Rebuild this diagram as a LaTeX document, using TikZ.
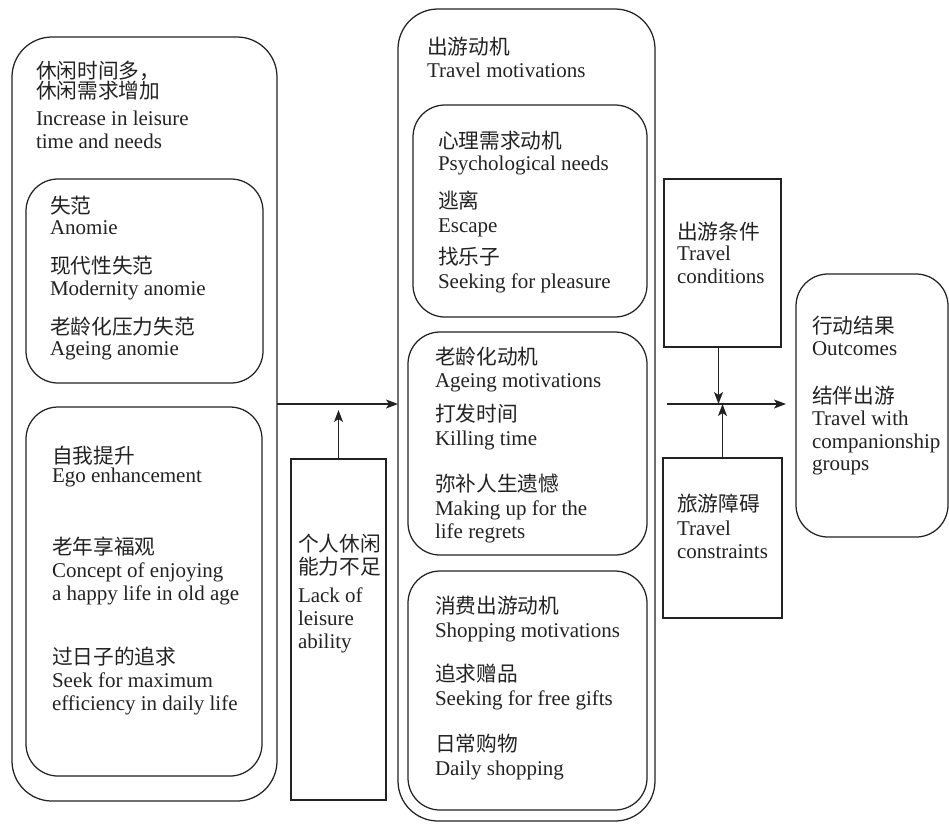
\documentclass[tikz,border=0pt]{standalone}
\usepackage{fontspec}
\setmainfont{Liberation Serif}
\newfontfamily\cjk{Noto Sans CJK SC}
\usetikzlibrary{arrows.meta}
\definecolor{ink}{HTML}{222222}
\newcommand\entext[4]{\node[txt] (#1) at (#2,#3) {#4};}
\newcommand\cntext[4]{\node[cn] (#1) at (#2,#3) {#4};}
\newcommand\bx[6]{\node[#6, minimum width=#4-#2, minimum height=#5-#3, anchor=north west] (#1) at (#2,#3) {};}
\begin{document}
\begin{tikzpicture}[x=1pt,y=-1pt,
  box/.style={draw=ink, line width=1.25pt, inner sep=0pt, outer sep=0pt},
  obox/.style={box, rounded corners=40pt},
  ibox/.style={box, rounded corners=32pt},
  sbox/.style={box},
  txt/.style={inner sep=0pt, outer sep=0pt, anchor=base west, font=\fontsize{21}{23}\selectfont, text=ink},
  cn/.style={txt, font=\fontsize{20.7}{23}\cjk},
  arr/.style={draw=ink, line width=1.25pt, -{Stealth[length=12pt,width=9pt,inset=3pt]}}]
\useasboundingbox (0,0) rectangle (949,823);
% boxes
\bx{Lout}{12}{37}{277}{801}{obox}
\bx{Lan}{26}{179}{263}{383}{ibox}
\bx{Lego}{26}{407}{262}{776}{ibox}
\bx{lack}{291}{459}{386}{800}{sbox}
\bx{Mout}{398}{9}{655}{821}{obox}
\bx{psy}{413}{105}{647}{317}{ibox}
\bx{age}{408}{332}{647}{555}{ibox}
\bx{shop}{408}{571}{647}{810}{ibox}
\bx{cond}{664}{179}{781}{347}{sbox}
\bx{cons}{663}{458}{782}{618}{sbox}
\bx{out}{796}{274}{948}{537}{ibox}
% left column texts
\cntext{t1}{36}{78}{休闲时间多，}
\cntext{t2}{36}{98}{休闲需求增加}
\entext{t3}{36}{125}{Increase in leisure}
\entext{t4}{36}{148}{time and needs}
\cntext{a1}{50}{213}{失范}
\entext{a2}{50}{234}{Anomie}
\cntext{a3}{50}{273}{现代性失范}
\entext{a4}{50}{295}{Modernity anomie}
\cntext{a5}{50}{334}{老龄化压力失范}
\entext{a6}{50}{355}{Ageing anomie}
\cntext{e1}{52}{463}{自我提升}
\entext{e2}{52}{482}{Ego enhancement}
\cntext{e3}{52}{554}{老年享福观}
\entext{e4}{52}{577}{Concept of enjoying}
\entext{e5}{52}{600}{a happy life in old age}
\cntext{e6}{52}{664}{过日子的追求}
\entext{e7}{52}{687}{Seek for maximum}
\entext{e8}{52}{710}{efficiency in daily life}
% lack box
\cntext{k1}{298}{551}{个人休闲}
\cntext{k2}{298}{574}{能力不足}
\entext{k3}{298}{602}{Lack of}
\entext{k4}{298}{625}{leisure}
\entext{k5}{298}{648}{ability}
% middle
\cntext{m1}{427}{54}{出游动机}
\entext{m2}{427}{77}{Travel motivations}
\cntext{p1}{438}{148}{心理需求动机}
\entext{p2}{438}{170}{Psychological needs}
\cntext{p3}{438}{208}{逃离}
\entext{p4}{438}{232}{Escape}
\cntext{p5}{438}{264}{找乐子}
\entext{p6}{438}{288}{Seeking for pleasure}
\cntext{g1}{435}{364}{老龄化动机}
\entext{g2}{435}{387}{Ageing motivations}
\cntext{g3}{435}{421}{打发时间}
\entext{g4}{435}{445}{Killing time}
\cntext{g5}{435}{491}{弥补人生遗憾}
\entext{g6}{435}{515}{Making up for the}
\entext{g7}{435}{538}{life regrets}
\cntext{s1}{435}{613}{消费出游动机}
\entext{s2}{435}{637}{Shopping motivations}
\cntext{s3}{435}{681}{追求赠品}
\entext{s4}{435}{705}{Seeking for free gifts}
\cntext{s5}{435}{751}{日常购物}
\entext{s6}{435}{775}{Daily shopping}
% right
\cntext{c1}{677}{239}{出游条件}
\entext{c2}{677}{260}{Travel}
\entext{c3}{677}{283}{conditions}
\cntext{r1}{677}{511}{旅游障碍}
\entext{r2}{677}{535}{Travel}
\entext{r3}{677}{558}{constraints}
\cntext{o1}{812}{333}{行动结果}
\entext{o2}{812}{355}{Outcomes}
\cntext{o3}{812}{403}{结伴出游}
\entext{o4}{812}{425}{Travel with}
\entext{o5}{812}{448}{companionship}
\entext{o6}{812}{470}{groups}
% connectors
\coordinate (j1) at (338.5,404);
\coordinate (j2) at (720,404);
\coordinate (s0) at (667,404);
\draw[arr] (Lout.east |- j1) -- (Mout.west |- j1);
\draw[arr] (lack.north) -- ([yshift=-6pt]lack.north |- j1);
\draw[arr] (s0) -- ([xshift=-10pt]out.west |- j2);
\draw[arr] ([xshift=-4pt]cond.south) -- ([xshift=-4pt]cond.south |- j2);
\draw[arr] (cons.north) -- (cons.north |- j2);
\end{tikzpicture}
\end{document}
